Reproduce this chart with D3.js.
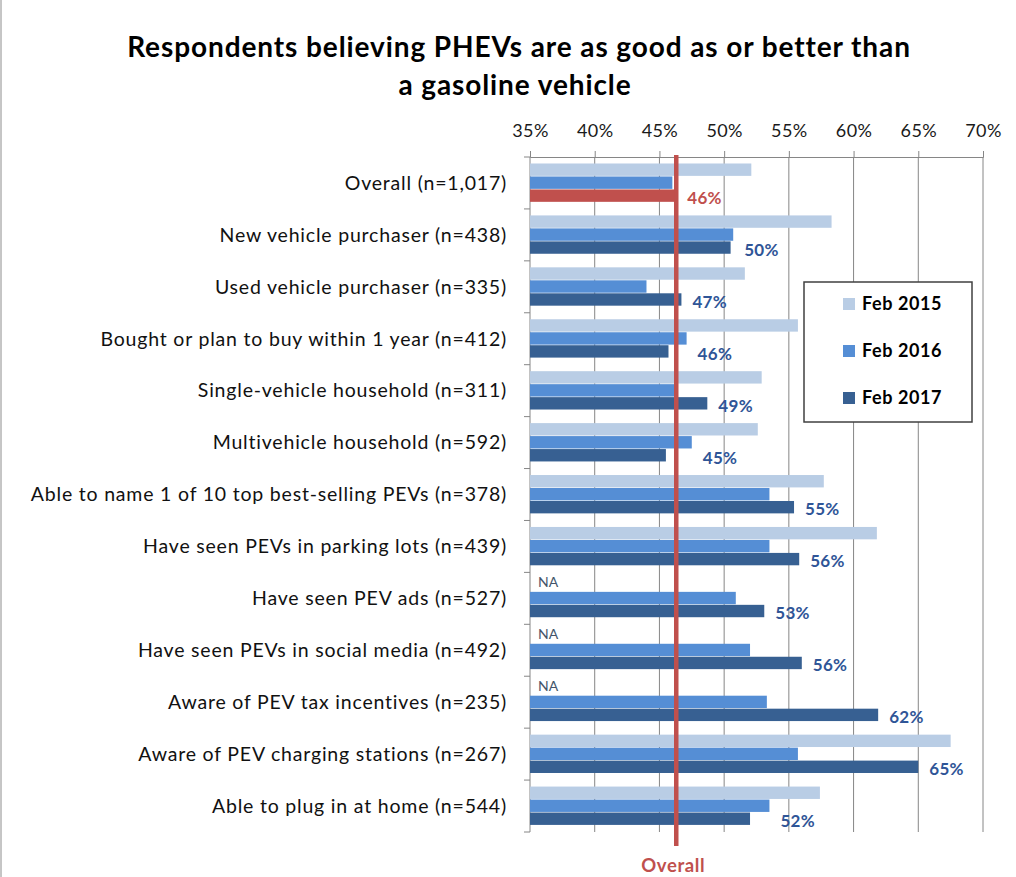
<!DOCTYPE html>
<html>
<head>
<meta charset="utf-8">
<script src="https://cdn.jsdelivr.net/npm/d3@7"></script>
<style>
  body { margin: 0; background: #fff; }
  svg { display: block; font-family: Lato, "Open Sans", sans-serif; }
</style>
</head>
<body>
<div id="chart"></div>
<script>
// chart data
const categories = [
  "Overall (n=1,017)",
  "New vehicle purchaser (n=438)",
  "Used vehicle purchaser (n=335)",
  "Bought or plan to buy within 1 year (n=412)",
  "Single-vehicle household (n=311)",
  "Multivehicle household (n=592)",
  "Able to name 1 of 10 top best-selling PEVs (n=378)",
  "Have seen PEVs in parking lots (n=439)",
  "Have seen PEV ads (n=527)",
  "Have seen PEVs in social media (n=492)",
  "Aware of PEV tax incentives (n=235)",
  "Aware of PEV charging stations (n=267)",
  "Able to plug in at home (n=544)"
];
const seriesNames = ["Feb 2015", "Feb 2016", "Feb 2017"];
const feb2015 = [52.1, 58.3, 51.6, 55.7, 52.9, 52.6, 57.7, 61.8, null, null, null, 67.5, 57.4];
const feb2016 = [46.0, 50.7, 44.0, 47.1, 46.2, 47.5, 53.5, 53.5, 50.9, 52.0, 53.3, 55.7, 53.5];
const feb2017 = [46.3, 50.5, 46.7, 45.7, 48.7, 45.5, 55.4, 55.8, 53.1, 56.0, 61.9, 65.0, 52.0];
const labels2017 = ["46%", "50%", "47%", "46%", "49%", "45%", "55%", "56%", "53%", "56%", "62%", "65%", "52%"];
const overallValue = 46.3;
const xTicks = [35, 40, 45, 50, 55, 60, 65, 70];

const colors = ["#B9CDE5", "#558ED5", "#376092"];
const overallColor = "#C0504D";
const labelColor = "#2F5597";

const width = 1016, height = 877;
const svg = d3.select("#chart").append("svg")
  .attr("width", width)
  .attr("height", height);

// left border of the chart frame
svg.append("line")
  .attr("x1", 1).attr("x2", 1).attr("y1", 0).attr("y2", height)
  .attr("stroke", "#8c8c8c").attr("stroke-width", 1);

// title
svg.append("text")
  .attr("x", 519).attr("y", 57)
  .attr("text-anchor", "middle")
  .style("font-size", "28px").style("font-weight", "bold").style("fill", "#000")
  .style("letter-spacing", "0.9px")
  .text("Respondents believing PHEVs are as good as or better than");
svg.append("text")
  .attr("x", 515).attr("y", 95)
  .attr("text-anchor", "middle")
  .style("font-size", "28px").style("font-weight", "bold").style("fill", "#000")
  .style("letter-spacing", "0.9px")
  .text("a gasoline vehicle");

const plotTop = 157, plotBottom = 832;
const x = d3.scaleLinear().domain([35, 70]).range([530, 983]);
const y = d3.scaleBand().domain(categories).range([plotTop, plotBottom]);
const ySub = d3.scaleBand().domain(seriesNames).range([0, y.bandwidth()]).paddingOuter(0.5);

// gridlines
svg.append("g")
  .selectAll("line")
  .data(xTicks.slice(1))
  .enter()
  .append("line")
  .attr("x1", d => x(d)).attr("x2", d => x(d))
  .attr("y1", plotTop).attr("y2", plotBottom)
  .attr("stroke", "#868686").attr("stroke-width", 1);

// top axis
const xAxis = svg.append("g")
  .attr("transform", `translate(0,${plotTop})`)
  .call(d3.axisTop(x).tickValues(xTicks).tickFormat(d => d + "%").tickSize(6).tickPadding(14));
xAxis.select(".domain").attr("stroke", "#868686");
xAxis.selectAll(".tick line").attr("stroke", "#868686");
xAxis.selectAll("text")
  .style("font-size", "18px").style("fill", "#1a1a1a").style("font-family", "Lato, sans-serif")
  .style("letter-spacing", "0.4px");

// left axis
svg.append("line")
  .attr("x1", 530).attr("x2", 530).attr("y1", plotTop).attr("y2", plotBottom)
  .attr("stroke", "#868686");
svg.append("g")
  .selectAll("line")
  .data(d3.range(categories.length + 1))
  .enter()
  .append("line")
  .attr("x1", 524).attr("x2", 530)
  .attr("y1", i => plotTop + i * y.step()).attr("y2", i => plotTop + i * y.step())
  .attr("stroke", "#868686");

// category labels
svg.append("g")
  .selectAll("text")
  .data(categories)
  .enter()
  .append("text")
  .attr("x", 507)
  .attr("y", d => y(d) + y.bandwidth() / 2)
  .attr("dy", "0.35em")
  .attr("text-anchor", "end")
  .style("font-size", "19.5px").style("fill", "#111")
  .style("letter-spacing", "0.8px")
  .text(d => d);

// bars
const rows = categories.map((c, i) => ({
  cat: c, i: i, values: [feb2015[i], feb2016[i], feb2017[i]]
}));

const groups = svg.append("g")
  .selectAll("g")
  .data(rows)
  .enter()
  .append("g")
  .attr("transform", d => `translate(0,${y(d.cat)})`);

groups.selectAll("rect")
  .data(d => d.values.map((v, k) => ({ v: v, k: k, i: d.i })).filter(e => e.v !== null))
  .enter()
  .append("rect")
  .attr("x", x(35))
  .attr("y", d => ySub(seriesNames[d.k]))
  .attr("width", d => x(d.v) - x(35))
  .attr("height", ySub.bandwidth() - 0.6)
  .attr("fill", d => (d.i === 0 && d.k === 2) ? overallColor : colors[d.k]);

// NA labels where 2015 is missing
groups.filter(d => d.values[0] === null)
  .append("text")
  .attr("x", 538)
  .attr("y", ySub(seriesNames[0]) + 8)
  .style("font-size", "14px").style("fill", "#44546A")
  .text("NA");

// value labels for Feb 2017
groups.append("text")
  .attr("x", d => x(Math.max(d.values[1], d.values[2])) + 11)
  .attr("y", ySub(seriesNames[2]) + ySub.bandwidth() / 2 + 2)
  .attr("dy", "0.35em")
  .style("font-size", "17px").style("font-weight", "bold")
  .style("letter-spacing", "0.3px")
  .style("fill", d => d.i === 0 ? overallColor : labelColor)
  .text(d => labels2017[d.i]);

// overall reference line
svg.append("line")
  .attr("x1", x(overallValue)).attr("x2", x(overallValue))
  .attr("y1", plotTop - 2).attr("y2", 846)
  .attr("stroke", overallColor).attr("stroke-width", 4.5);
svg.append("text")
  .attr("x", x(overallValue) - 3).attr("y", 872)
  .attr("text-anchor", "middle")
  .style("font-size", "18.5px").style("font-weight", "bold").style("fill", overallColor)
  .style("letter-spacing", "0.6px")
  .text("Overall");

// legend
const legend = svg.append("g").attr("transform", "translate(804,282)");
legend.append("rect")
  .attr("width", 168).attr("height", 140)
  .attr("fill", "#fff").attr("stroke", "#404040").attr("stroke-width", 1.5);
const items = legend.selectAll("g")
  .data(seriesNames)
  .enter()
  .append("g")
  .attr("transform", (d, i) => `translate(0,${22 + i * 47})`);
items.append("rect")
  .attr("x", 39).attr("y", -6).attr("width", 12).attr("height", 12)
  .attr("fill", (d, i) => colors[i]);
items.append("text")
  .attr("x", 58).attr("dy", "0.35em")
  .style("font-size", "18px").style("font-weight", "bold").style("fill", "#000")
  .style("letter-spacing", "0.6px")
  .text(d => d);
</script>
</body>
</html>
